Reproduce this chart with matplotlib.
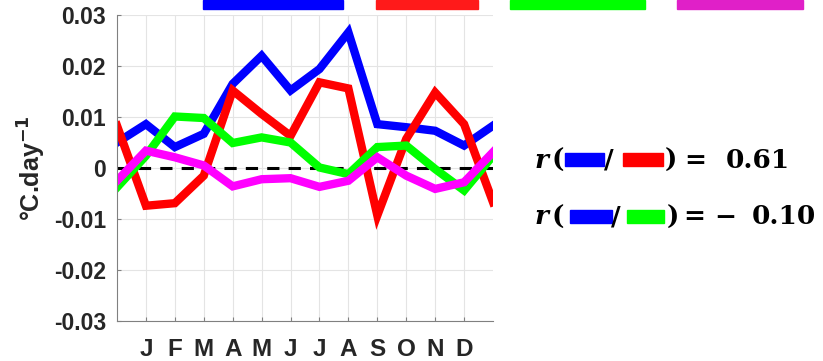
import numpy as np
import matplotlib.pyplot as plt
from matplotlib.patches import Rectangle

months = ['J', 'F', 'M', 'A', 'M', 'J', 'J', 'A', 'S', 'O', 'N', 'D']
# positions 0..13 : previous Dec, J..D, next Jan
blue = [0.0050, 0.0086, 0.0041, 0.0067, 0.0165, 0.0220, 0.0152, 0.0194,
        0.0266, 0.0086, 0.0080, 0.0073, 0.0044, 0.0083]
red = [0.0083, -0.0074, -0.0069, -0.0015, 0.0152, 0.0106, 0.0063, 0.0168,
       0.0156, -0.0093, 0.0057, 0.0148, 0.0086, -0.0067]
green = [-0.0038, 0.0024, 0.0101, 0.0098, 0.0049, 0.0060, 0.0050, 0.0001,
         -0.0012, 0.0041, 0.0044, -0.0002, -0.0044, 0.0024]
magenta = [-0.0025, 0.0034, 0.0021, 0.0005, -0.0036, -0.0022, -0.0020,
           -0.0037, -0.0025, 0.0021, -0.0015, -0.0041, -0.0028, 0.0031]
r_labels = ['0.61', '0.10']

W, H = 823, 361
fig = plt.figure(figsize=(W / 100, H / 100), dpi=100)
ax = fig.add_axes([117 / W, 1 - 321 / H, (493 - 117) / W, (321 - 15) / H])

x = np.arange(len(blue))
ax.axhline(0, color='black', ls=(0, (4, 3)), lw=2.2, zorder=1)
for vals, col in [(blue, '#0000ff'), (red, '#ff0000'), (green, '#00ff00'),
                  (magenta, '#ff00ff')]:
    ax.plot(x, vals, color=col, lw=6, solid_joinstyle='miter', zorder=2)

ax.set_xlim(0, 13)
ax.set_ylim(-0.03, 0.03)
ax.set_xticks(np.arange(1, 13))
ax.set_xticklabels(months)
ax.set_yticks([-0.03, -0.02, -0.01, 0, 0.01, 0.02, 0.03])
ax.set_yticklabels(['-0.03', '-0.02', '-0.01', '0', '0.01', '0.02', '0.03'])
ax.grid(True, color='#e4e4e4', lw=0.8)
ax.set_axisbelow(True)
for s in ['top', 'right']:
    ax.spines[s].set_visible(False)
for s in ['left', 'bottom']:
    ax.spines[s].set_color('#808080')
ax.tick_params(direction='in', length=3, color='#808080')
ax.tick_params(axis='y', pad=8)
ax.tick_params(axis='x', pad=12)
for lab in ax.get_xticklabels() + ax.get_yticklabels():
    lab.set_fontfamily('Liberation Sans')
    lab.set_fontweight('bold')
    lab.set_fontsize(16.5)
    lab.set_color('#262626')
for lab in ax.get_xticklabels():
    lab.set_fontsize(17.5)
ax.set_ylabel('\u00b0C.day$^{\\mathbf{-1}}$', fontsize=18, fontweight='bold',
              family='Liberation Sans', color='#262626', labelpad=4)

# cut-off legend bars at the top
for x0, x1, col in [(203, 343, '#0000ff'), (376, 478, '#ff1a1a'),
                    (510, 645, '#00ff00'), (677, 803, '#e020c8')]:
    fig.patches.append(Rectangle((x0 / W, 1 - 9 / H), (x1 - x0) / W, 9 / H,
                                 transform=fig.transFigure, color=col))


# correlation annotations
def fx(px):
    return px / W


def fy(py):
    return 1 - py / H


tk = dict(family='DejaVu Serif', fontsize=19, fontweight='bold',
          va='center', ha='left')
rows = [(160, '#ff0000', r_labels[0], False, (565, 604), 604, (623, 663), 665, 684, 726),
        (217, '#00ff00', r_labels[1], True, (570, 612), 611, (627, 664), 667, 683, 752)]
for yp, col2, val, neg, b, sl, c, rp, eq, vx in rows:
    fig.text(fx(535), fy(yp), 'r', style='italic', **tk)
    fig.text(fx(552), fy(yp), '(', **tk)
    fig.patches.append(Rectangle((fx(b[0]), fy(yp + 6)), (b[1] - b[0]) / W,
                                 13 / H, transform=fig.transFigure,
                                 color='#0000ff'))
    fig.text(fx(sl), fy(yp), '/', **tk)
    fig.patches.append(Rectangle((fx(c[0]), fy(yp + 6)), (c[1] - c[0]) / W,
                                 13 / H, transform=fig.transFigure, color=col2))
    fig.text(fx(rp), fy(yp), ')', **tk)
    fig.text(fx(eq), fy(yp), '=', **tk)
    if neg:
        fig.text(fx(714), fy(yp), '\u2212', **tk)
    fig.text(fx(vx), fy(yp), val, **tk)

fig.savefig('out.png', dpi=100)
